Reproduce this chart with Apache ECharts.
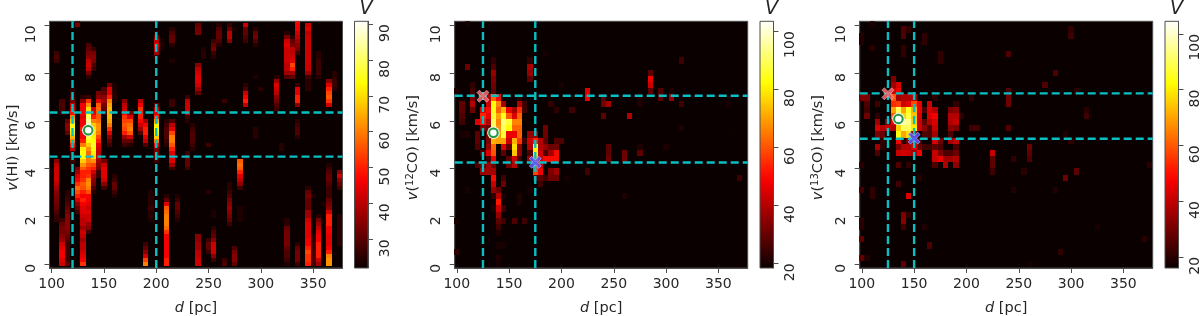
<!DOCTYPE html>
<html><head><meta charset="utf-8">
<style>html,body{margin:0;padding:0;background:#fff}#c{width:1200px;height:316px}</style>
<script src="https://cdn.jsdelivr.net/npm/echarts@6/dist/echarts.min.js"></script>
</head><body><div id="c"></div>
<script>
// Tick labels
const dTicks = [100,150,200,250,300,350];
const vTicks = [0,2,4,6,8,10];
const barTicksHI = [30,40,50,60,70,80,90];
const barTicksCO = [20,40,60,80,100];
// Channel widths (km/s)
const hiStep = 1/6;
const coStep = 0.2585;
// Colour map (hot)
const hotColors = ['#0a0000','#2c0000','#4d0000','#6f0000','#900000','#b20000','#d30000','#f50000','#ff1700','#ff3900','#ff5a00','#ff7c00','#ff9d00','#ffbf00','#ffe000','#ffff04','#ffff36','#ffff68','#ffff9b','#ffffcd','#ffffff'];
// Colour ranges
const rangeHI = [22,90.8], range12 = [18.4,103.4], range13 = [16,104.5];
// Dashed guide lines
const hiDLines = [120,200], hiVLines = [6.35,4.5];
const co12DLines = [125,175], co12VLines = [7.05,4.25];
const co13DLines = [125,150], co13VLines = [7.15,5.25];
// Markers [d, v]
const hiBest = [135,5.6];
const co12Best = [135,5.5], co12Near = [125,7.03], co12Far = [175,4.26];
const co13Best = [135,6.08], co13Near = [125,7.13], co13Far = [150,5.27];

// HI: [d, first channel, brightness per channel going up]
const hiColumns = [
[105,11,[26,27,29,31,32,33,34,35,37,40,42,42,42,42,40,35]],
[105,51,[27,29,27]],
[110,0,[42,44,46,46,44,42,37,35,33,33,31,27]],
[110,38,[26,28,29,28]],
[115,0,[31,27,27,27,27,27,29,31,33,35,35,35,35,33,31,29,27,26,25]],
[115,33,[31,35,35,31]],
[120,25,[25,27,25,27,40,50,60,66,72,76,74,68,60,48,44,40,33,29,27,25]],
[125,13,[27,31,35,43,50,55,58,52,46,43,37,33]],
[125,60,[33,27]],
[130,0,[52,46,44,42,40,40,37,40,42,37,40,40,42,44,44,46,50,46,50,55,56,52,50,50,56,62,68,74,74,72,60,50,46,46,50,46,46,44,46,46,46,35,25]],
[135,8,[27,35,37,42,42,44,42,44,46,46,55,60,62,60,52,50,52,56,60,60,58,62,68,74,78,84,88,86,84,80,75,70,62,52,27]],
[135,47,[25,33,40,42,40,35,33,31,29]],
[140,18,[25,29,33,35,37,42,50,54,62,70,72,74,76,74,72,70,70,68,60,50,44,42]],
[140,49,[27,29,33,35,33,27]],
[145,22,[27,27,33,35,37,40,40,42,44,50,54,60,62,62,58,56,56,58,56,44,35,33]],
[150,19,[27,35,42,44,44,44,42,33]],
[150,38,[27,31,33,37,35,31,29]],
[155,30,[27,31,35,44,52,60,64,66,66,66,64,60,50,44,44,33]],
[160,17,[24,27,31,31,27,25]],
[160,41,[24,25,25,24,24]],
[170,30,[27,31,37,50,54,56,54,52,46,42,40,35]],
[175,30,[25,31,42,56,60,58,54,44,33]],
[185,33,[29,37,42,46,50,50,52,46,40]],
[190,0,[60,54,42,35,31,27]],
[190,30,[29,40,44,50,50,46,37]],
[195,11,[24,25,25,27,25,25,25,24]],
[200,26,[27,31,33,33,44,60,68,72,74,72,64,50,44,40,31]],
[200,52,[27,37,40,44,40,33,25]],
[205,54,[24,25,24]],
[210,0,[50,50,46,46,46,46,46,46,52,58,60,60,60,58,56,44,31,25]],
[210,30,[25,27,29,29,29,27,25]],
[215,24,[27,37,44,44,44,50,56,60,60,54,44,40,29]],
[215,40,[27,27]],
[215,51,[24]],
[215,55,[25,31,31,29,25]],
[220,11,[25,27,29,31,31,27,24]],
[230,24,[27,31,31,31,27]],
[230,36,[25,27,40,42,42,40,27]],
[235,29,[25,27,29,29,29,27,25]],
[240,0,[42,42,40,40,37,37,35,35]],
[240,43,[31,37,42,44,44,42,40,35]],
[240,58,[33,33,31]],
[245,52,[25,25,24]],
[250,3,[27,31,31,27]],
[250,18,[25]],
[250,30,[27]],
[255,1,[27,35,42,42,42,35,31,29,25]],
[255,12,[24,24]],
[255,52,[25,27,33,31,27]],
[260,55,[25,29,31,31,29,25]],
[265,0,[29,27]],
[265,41,[27]],
[270,10,[27,31,33,35,37,35,33,29,27,25,25]],
[270,56,[35,40,40,31,27]],
[275,0,[31,35,35,33,29]],
[275,59,[24]],
[280,11,[24,24,24,24]],
[280,19,[27,35,40,44,50,56,58,56]],
[285,40,[40,50,46,42,29,25]],
[285,56,[27,29,31,31,42]],
[295,32,[25,25,25]],
[295,47,[24]],
[295,55,[25,29,33,31,25]],
[300,44,[25]],
[315,39,[27,29,33,35,40,42,44,37,25]],
[320,29,[25,25]],
[325,0,[24,27,29,29,31,33,33,33,33,31,25,25]],
[325,47,[29,37,40,40,42,42,42,42,44,42,33,25]],
[330,47,[31,37,50,54,44,42,40,40,33,31,25]],
[335,0,[27,33,33,33,31,25]],
[335,32,[25,29,29,27,25]],
[335,40,[35,50,50,44,44,27]],
[335,53,[27,33,35,37,40,42,45,46,48]],
[345,0,[50,52,52,54,50,46,46,44,44,44,44,42,37,37,31,31,31,33,31,25]],
[345,44,[25,25,25,27,37,42,42,42,42,42,42,42,42,42,40,44,42]],
[350,0,[27,29,29,29,27,27,25,25]],
[350,17,[24]],
[355,0,[37,42,50,50,50,50,46,46,44,40,37,33,25]],
[355,47,[25,27,27,27,27,25,25]],
[360,15,[24]],
[365,0,[62,62,60,50,46,44,44,44,46,46,50,50,50,42,35,33,31,27,27,27,29,31,31,29,27,24]],
[365,40,[42,52,56,54,50,44,35]],
[370,44,[25,27,27,25,25]],
[375,5,[25,25,25,25,25,25,25,25]],
[375,19,[27,31,35,42,35]]
];

// 12CO: [channel, d, value, d, value, ...]
const co12Rows = [
[0,140,20],[1,140,21],[2,100,23],[3,140,20,145,20],
[5,140,21],[6,140,25],[7,100,20,140,29,145,25,155,27,165,25],
[8,140,36],[9,135,21,140,43,145,25],[10,140,52,160,21],
[11,135,23,140,40,145,21,160,21,260,21],[12,110,20,135,36,140,31,170,20],
[13,135,43,145,31,180,25],[14,135,50,145,25,175,29,180,29,185,25,190,31,195,31,205,20,370,25],
[15,125,36,130,38,135,38,175,58,180,47,190,33,195,38,225,25],
[16,120,27,125,29,130,38,135,31,150,31,155,40,175,60,180,43],
[17,130,25,135,47,150,29,155,43,160,25,170,36,175,72,180,43,185,50,190,50,195,50,245,31,260,31],
[18,125,27,130,45,135,60,145,29,155,74,160,36,170,27,175,80,180,43,185,27,190,38,195,50,245,29,260,31,275,29],
[19,120,27,130,36,135,62,145,45,150,29,155,78,160,36,170,40,175,84,180,40,185,36,190,31,195,31,245,29,275,21,300,21],
[20,120,29,130,33,135,72,140,70,145,70,150,43,155,72,160,56,165,25,170,43,175,54,180,40,185,29,195,27,200,27],
[21,105,20,110,21,120,29,130,31,135,92,140,70,145,86,150,47,155,47,160,62,170,36,175,36,185,31,365,19],
[22,125,33,130,31,135,90,140,68,145,90,150,82,155,62,160,62,185,31,315,21],
[23,105,25,120,45,125,50,130,40,135,90,140,66,145,92,150,86,155,66,160,66],
[24,105,27,125,54,130,47,135,86,140,70,145,84,150,60,155,45,160,62,240,29,265,40],
[25,105,29,115,31,125,45,130,50,135,84,140,62,145,72,150,47,155,38,160,55,165,25,195,23,210,25],
[26,105,29,115,40,130,43,135,82,140,66,145,38,160,40,165,25,190,23,240,31,245,38,275,21,315,25,360,20],
[27,115,33,130,40,135,62,140,50,160,23,225,47,240,29,275,21,295,29,305,36],
[28,100,21,115,25,135,29,225,45,285,29,295,27,305,21],
[29,115,23,135,31,200,20,285,43],
[30,135,33,170,29,285,47],
[31,135,36,170,36,285,29],
[32,110,31,135,27,170,38],
[33,135,23,170,23,315,25],
[34,185,20],
[35,305,19],
[39,110,20]
];

// 13CO: [channel, d, value, d, value, ...]
const co13Rows = [
[0,140,27,260,18],[1,100,27,105,19],[2,290,21],[3,165,25],[4,100,27,370,20],
[6,100,20,140,23,160,19,325,18],[7,100,20,140,33],[8,140,31,145,21],
[11,110,21,145,43],[12,100,23,110,21,245,19,285,19],[13,135,23],[14,155,20,295,29],
[15,225,23,255,20,305,27],[16,100,20,135,25,145,21,170,25,180,38,190,33,225,27,375,20],
[17,170,41,175,45,180,36,185,36,190,38,225,27,245,21,260,25],
[18,115,25,135,41,140,43,145,41,150,36,155,47,170,41,175,31,180,25,185,25,190,29,225,41,260,27],
[19,115,36,120,20,135,31,140,38,145,38,150,43,155,29,160,23,165,23,170,27,175,25,190,25,260,29],
[20,120,21,135,47,140,21,145,29,150,33,155,25,170,43,175,29,185,36,190,41,300,21],
[21,115,31,120,29,135,82,140,70,145,78,150,36,160,25,165,25,170,36,185,25,295,19],
[22,115,43,120,38,125,41,130,38,135,76,140,90,145,90,150,80,155,41,160,33,165,25,170,41,185,33,190,31,205,23,210,23,240,25],
[23,115,36,125,31,130,47,135,88,140,96,145,94,150,76,155,41,160,27,165,38,170,43,185,38,190,41],
[24,105,29,115,21,130,60,135,96,140,76,145,88,150,74,155,43,165,43,170,47,185,38,190,38,195,21,315,23],
[25,105,23,130,70,135,90,140,70,145,84,150,72,155,45,160,25,165,43,170,38,185,31,190,33,315,20],
[26,105,25,115,23,130,54,135,56,140,41,145,45,150,58,155,45,165,41,190,21,240,29],
[27,100,31,105,31,130,60,135,36,140,38,145,38,150,38,170,21,205,21,240,29],
[28,130,41,135,47,240,25,305,20],
[29,130,36,135,43,275,25],
[30,130,31],
[31,285,25],
[33,175,21],
[34,140,21,175,21,240,25],
[35,110,20,140,21],
[36,100,19,160,21],
[37,100,19,140,25,160,21,300,23],
[38,140,25,145,21,300,21],
[39,110,18]
];

const hiCells = hiColumns.flatMap(c => c[2].map((val,i) => [c[0], (c[1]+i)*hiStep, val]));
const rowCells = rows => rows.flatMap(r => {
  const out = [];
  for (let i=1;i<r.length;i+=2) out.push([r[i], r[0]*coStep, r[i+1]]);
  return out;
});

const TXT = '#262626', SPINE = '#4d4d4d', CY = '#08c0c4', FONT = 'DejaVu Sans';
const XPATH = 'path://M2,0 L5,3 L8,0 L10,2 L7,5 L10,8 L8,10 L5,7 L2,10 L0,8 L3,5 L0,2 Z';
const panels = [
 {left:49.5, bar:354.5, name:'{i|v}(HI) [km/s]', gap:29, cells:hiCells, step:hiStep, range:rangeHI, ticks:barTicksHI, dl:hiDLines, vl:hiVLines, best:hiBest},
 {left:454.7, bar:760, name:'{i|v}({s|12}CO) [km/s]', gap:34, cells:rowCells(co12Rows), step:coStep, range:range12, ticks:barTicksCO, dl:co12DLines, vl:co12VLines, best:co12Best, near:co12Near, far:co12Far},
 {left:859.7, bar:1165, name:'{i|v}({s|13}CO) [km/s]', gap:34, cells:rowCells(co13Rows), step:coStep, range:range13, ticks:barTicksCO, dl:co13DLines, vl:co13VLines, best:co13Best, near:co13Near, far:co13Far}
];
const XMIN=98, XMAX=378, YMIN=-0.17, YMAX=10.17, GTOP=21.3, GH=246.7, GW=293, BW=13.5;
const opt = {animation:false, backgroundColor:'#fff', textStyle:{fontFamily:FONT},
  grid:[],xAxis:[],yAxis:[],series:[],visualMap:[],title:[]};
const axLine = {show:true,onZero:false,lineStyle:{color:SPINE,width:1}};
const tick = {show:true,length:5,lineStyle:{color:SPINE,width:1}};
const rich = {
  i:{fontFamily:FONT,fontStyle:'italic',fontSize:14.5,color:TXT},
  s:{fontFamily:FONT,fontSize:10,color:TXT,verticalAlign:'top',lineHeight:14},
  n:{fontFamily:FONT,fontSize:14.5,color:TXT}
};
panels.forEach((p,k)=>{
  const g=k*2, b=k*2+1;
  opt.grid.push({left:p.left,top:GTOP,width:GW,height:GH,show:true,backgroundColor:hotColors[0],borderColor:SPINE,borderWidth:1,containLabel:false,outerBoundsMode:'none'});
  opt.grid.push({left:p.bar,top:GTOP,width:BW,height:GH,show:false,containLabel:false,outerBoundsMode:'none'});
  opt.xAxis.push({gridIndex:g,type:'value',min:XMIN,max:XMAX,position:'bottom',splitLine:{show:false},axisLine:axLine,
    axisTick:Object.assign({},tick,{customValues:dTicks}),
    axisLabel:{customValues:dTicks,fontSize:14,color:TXT,margin:9,fontFamily:FONT,hideOverlap:false,showMinLabel:true,showMaxLabel:true},
    name:'{i|d}{n| [pc]}',nameLocation:'middle',nameGap:33,nameTextStyle:{rich,fontSize:14.5,color:TXT}});
  opt.yAxis.push({gridIndex:g,type:'value',min:YMIN,max:YMAX,position:'left',splitLine:{show:false},axisLine:axLine,
    axisTick:Object.assign({},tick,{customValues:vTicks}),
    axisLabel:{customValues:vTicks,fontSize:14,color:TXT,margin:18,rotate:90,fontFamily:FONT,verticalAlign:'middle',align:'right'},
    name:p.name,nameLocation:'middle',nameGap:p.gap,nameRotate:90,nameTextStyle:{rich,fontSize:14.5,color:TXT,padding:[0,6,0,0]}});
  opt.xAxis.push({gridIndex:b,type:'value',min:0,max:1,show:false});
  opt.yAxis.push({gridIndex:b,type:'value',min:p.range[0],max:p.range[1],position:'right',splitLine:{show:false},
    axisLine:axLine,
    axisTick:Object.assign({},tick,{customValues:p.ticks}),
    axisLabel:{customValues:p.ticks,fontSize:14,color:TXT,margin:17,rotate:90,fontFamily:FONT,verticalAlign:'middle',align:'right'}});
  // heat cells
  const sIdx = opt.series.length;
  opt.series.push({type:'custom',xAxisIndex:g,yAxisIndex:g,coordinateSystem:'cartesian2d',clip:true,silent:true,
    data:p.cells,encode:{x:0,y:1},z:2,
    renderItem:(params,api)=>{
      const d=api.value(0), v=api.value(1);
      const a=api.coord([d-2.5,v+p.step/2]), c=api.coord([d+2.5,v-p.step/2]);
      const x0=Math.round(a[0]), y0=Math.round(a[1]), x1=Math.round(c[0]), y1=Math.round(c[1]);
      return {type:'rect',shape:{x:x0,y:y0,width:x1-x0,height:y1-y0},style:{fill:api.visual('color')}};
    }});
  opt.visualMap.push({show:false,type:'continuous',seriesIndex:sIdx,dimension:2,min:p.range[0],max:p.range[1],inRange:{color:hotColors}});
  // colour bar
  opt.series.push({type:'custom',xAxisIndex:b,yAxisIndex:b,coordinateSystem:'cartesian2d',silent:true,z:2,
    data:[[0,p.range[0],1,p.range[1]]],
    renderItem:(params,api)=>{
      const a=api.coord([api.value(0),api.value(3)]), c=api.coord([api.value(2),api.value(1)]);
      return {type:'rect',shape:{x:a[0],y:a[1],width:c[0]-a[0],height:c[1]-a[1]},
        style:{stroke:SPINE,lineWidth:1,fill:{type:'linear',x:0,y:1,x2:0,y2:0,
          colorStops:hotColors.map((col,i)=>({offset:i/(hotColors.length-1),color:col}))}}};
    }});
  // guide lines
  const lineStyle={color:CY,width:2.4,type:[8,4]};
  p.dl.forEach(d=>opt.series.push({type:'line',xAxisIndex:g,yAxisIndex:g,data:[[d,YMIN],[d,YMAX]],symbol:'none',silent:true,z:4,lineStyle}));
  p.vl.forEach(v=>opt.series.push({type:'line',xAxisIndex:g,yAxisIndex:g,data:[[XMIN,v],[XMAX,v]],symbol:'none',silent:true,z:4,lineStyle}));
  // markers
  opt.series.push({type:'scatter',xAxisIndex:g,yAxisIndex:g,data:[p.best],symbol:'circle',symbolSize:12.5,silent:true,z:5,itemStyle:{color:'#e8f2ea',opacity:1}});
  opt.series.push({type:'scatter',xAxisIndex:g,yAxisIndex:g,data:[p.best],symbol:'circle',symbolSize:8.5,silent:true,z:6,itemStyle:{color:'#fff',borderColor:'#1f9a3c',borderWidth:2,opacity:1}});
  if(p.near) opt.series.push({type:'scatter',xAxisIndex:g,yAxisIndex:g,data:[p.near],symbol:XPATH,symbolSize:12,silent:true,z:6,itemStyle:{color:'#f9656b',borderColor:'rgba(255,190,190,.7)',borderWidth:1,opacity:.85}});
  if(p.far) opt.series.push({type:'scatter',xAxisIndex:g,yAxisIndex:g,data:[p.far],symbol:XPATH,symbolSize:12,silent:true,z:6,itemStyle:{color:'#5a5aff',borderColor:'rgba(190,190,255,.7)',borderWidth:1,opacity:.85}});
  opt.title.push({text:'V',left:p.bar+6.5,top:-5,textAlign:'center',textStyle:{fontFamily:FONT,fontStyle:'italic',fontWeight:'normal',fontSize:19,color:TXT}});
});
const chart=echarts.init(document.getElementById('c'),null,{renderer:'canvas'});
chart.setOption(opt);
</script></body></html>
